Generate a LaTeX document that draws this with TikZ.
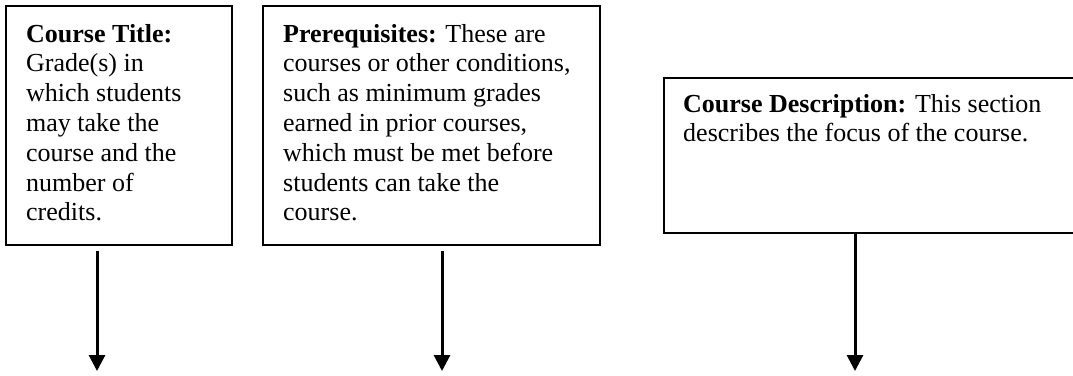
\documentclass[tikz,border=0pt]{standalone}
\usepackage{fontspec}
\setmainfont{Liberation Serif}
\usetikzlibrary{arrows.meta}
\tikzset{
  infobox/.style={draw=black, line width=2pt, rectangle, inner sep=0pt, anchor=north west},
  infotext/.style={anchor=base west, inner sep=0pt, align=left, font=\fontsize{26}{29.8}\selectfont},
  downarrow/.style={line width=3pt, -{Triangle[length=16pt,width=16pt]}}
}
\begin{document}
\begin{tikzpicture}[x=1pt,y=-1pt]
  \clip (0,0) rectangle (1073,375);
  \fill[white] (0,0) rectangle (1073,375);
  % boxes
  \node[infobox, minimum width=226pt, minimum height=239pt] (b1) at (5,5) {};
  \node[infobox, minimum width=337pt, minimum height=239pt] (b2) at (262,5) {};
  \node[infobox, minimum width=430pt, minimum height=155pt] (b3) at (663,77) {};
  % texts (base anchor = baseline of last line)
  \node[infotext] (t1) at (26,220.8) {\textbf{Course Title:}\\Grade(s) in\\which students\\may take the\\course and the\\number of\\credits.};
  \node[infotext] (t2) at (283,220.8) {\textbf{Prerequisites:} These are\\courses or other conditions,\\such as minimum grades\\earned in prior courses,\\which must be met before\\students can take the\\course.};
  \node[infotext] (t3) at (683,141.8) {\textbf{Course Description:} This section\\describes the focus of the course.};
  % arrow ends
  \coordinate (e1) at (97,371);
  \coordinate (e2) at (442,371);
  \coordinate (e3) at (855,371);
  \draw[downarrow] ([yshift=-5pt]b1.south -| e1) -- (e1);
  \draw[downarrow] ([yshift=-5pt]b2.south -| e2) -- (e2);
  \draw[downarrow] (b3.south -| e3) -- (e3);
\end{tikzpicture}
\end{document}
